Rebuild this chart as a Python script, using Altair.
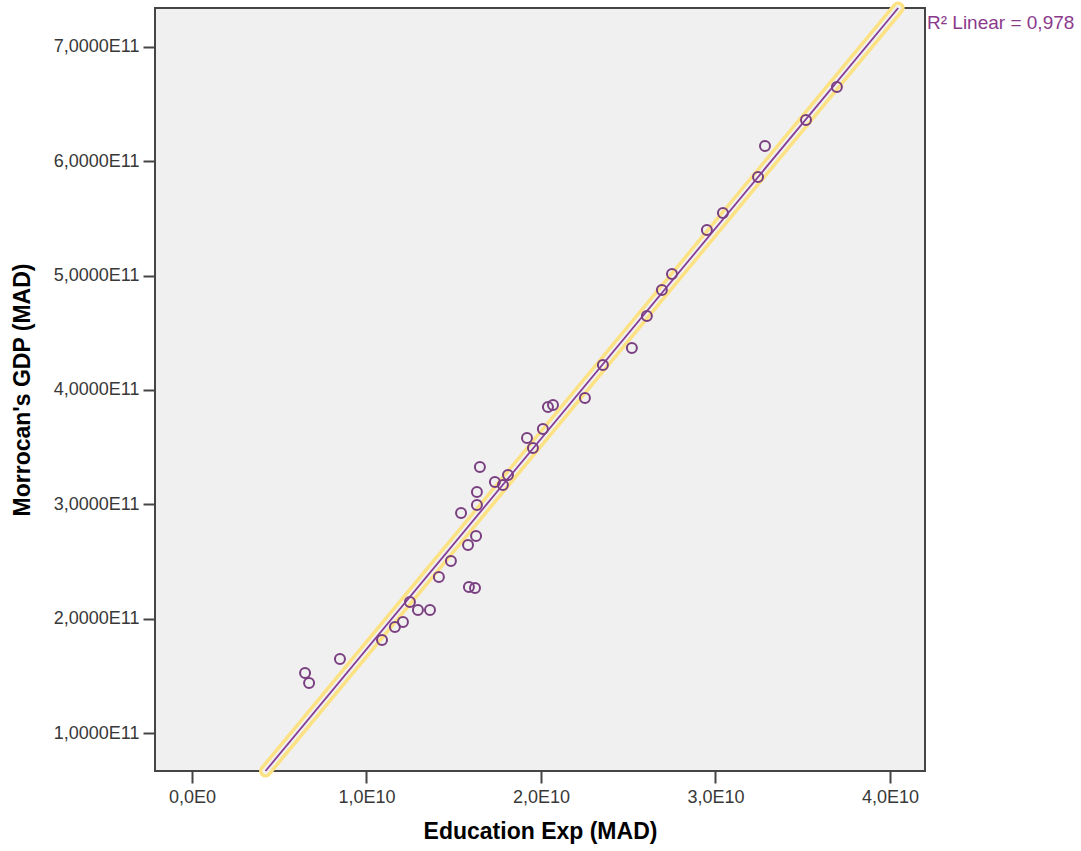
import altair as alt
import pandas as pd
import numpy as np

# Education expenditure (MAD) and Moroccan GDP (MAD)
edu_exp = [6.48e9, 6.71e9, 8.48e9, 1.089e10, 1.163e10, 1.209e10, 1.249e10, 1.295e10,
           1.364e10, 1.415e10, 1.484e10, 1.542e10, 1.582e10, 1.587e10, 1.622e10,
           1.628e10, 1.633e10, 1.633e10, 1.650e10, 1.736e10, 1.782e10, 1.811e10,
           1.920e10, 1.954e10, 2.011e10, 2.040e10, 2.069e10, 2.252e10, 2.355e10,
           2.521e10, 2.607e10, 2.693e10, 2.751e10, 2.951e10, 3.043e10, 3.244e10,
           3.284e10, 3.519e10, 3.696e10]
gdp = [1.527e11, 1.439e11, 1.649e11, 1.815e11, 1.929e11, 1.972e11, 2.147e11, 2.077e11,
       2.077e11, 2.366e11, 2.505e11, 2.925e11, 2.645e11, 2.278e11, 2.270e11,
       2.724e11, 2.995e11, 3.108e11, 3.327e11, 3.196e11, 3.170e11, 3.257e11,
       3.580e11, 3.493e11, 3.659e11, 3.851e11, 3.869e11, 3.930e11, 4.218e11,
       4.367e11, 4.647e11, 4.874e11, 5.013e11, 5.398e11, 5.547e11, 5.861e11,
       6.132e11, 6.359e11, 6.648e11]

x_ticks = [0, 1e10, 2e10, 3e10, 4e10]
y_ticks = [1e11, 2e11, 3e11, 4e11, 5e11, 6e11, 7e11]
x_domain = [-2.12e9, 4.201e10]
y_domain = [6.70e10, 7.338e11]
r2_label = "R\u00b2 Linear = 0,978"
x_title = "Education Exp (MAD)"
y_title = "Morrocan's GDP (MAD)"

W, H = 770, 763
PURPLE = "#7a3f80"
LINE_PURPLE = "#853d95"
YELLOW = "#fde283"
BG = "#f0f0f0"
FONT = "Liberation Sans"

df = pd.DataFrame({"edu": edu_exp, "gdp": gdp})

# Linear least-squares fit of the data; drawn across the y range of the plot
slope, intercept = np.polyfit(np.array(edu_exp), np.array(gdp), 1)
fit_x = [(yv - intercept) / slope for yv in y_domain]
fit_df = pd.DataFrame({"edu": fit_x, "gdp": y_domain})

xs = alt.Scale(domain=x_domain, nice=False, zero=False)
ys = alt.Scale(domain=y_domain, nice=False, zero=False)

x_axis = alt.Axis(
    values=x_ticks, title=x_title, grid=False, domain=False,
    labelExpr="datum.value == 0 ? '0,0E0' : replace(format(datum.value / 1e10, '.1f'), '.', ',') + 'E10'",
    tickSize=12, tickWidth=2, tickColor="#454545", labelPadding=5,
    labelFontSize=18, labelColor="#383838", labelFont=FONT,
    titleFontSize=23, titleFont=FONT, titleFontWeight="bold", titleColor="#000000",
    titlePadding=14,
)
y_axis = alt.Axis(
    values=y_ticks, title=y_title, grid=False, domain=False,
    labelExpr="replace(format(datum.value / 1e11, '.4f'), '.', ',') + 'E11'",
    tickSize=12, tickWidth=2, tickColor="#454545", labelPadding=4,
    labelFontSize=18, labelColor="#383838", labelFont=FONT,
    titleFontSize=23, titleFont=FONT, titleFontWeight="bold", titleColor="#000000",
    titlePadding=19,
)

base_fit = alt.Chart(fit_df).encode(
    x=alt.X("edu:Q", scale=xs, axis=x_axis),
    y=alt.Y("gdp:Q", scale=ys, axis=y_axis),
)
halo = base_fit.mark_line(color=YELLOW, strokeWidth=13, strokeCap="round", clip=False)
halo_inner = base_fit.mark_line(color=BG, strokeWidth=6, strokeCap="round", clip=False)
fit_line = base_fit.mark_line(color=LINE_PURPLE, strokeWidth=1.8, clip=False)

points = alt.Chart(df).mark_point(
    shape="circle", filled=False, color=PURPLE, size=100, strokeWidth=2, opacity=1
).encode(
    x=alt.X("edu:Q", scale=xs),
    y=alt.Y("gdp:Q", scale=ys),
)

label = alt.Chart(pd.DataFrame({"t": [r2_label]})).mark_text(
    align="left", baseline="middle", fontSize=19, font=FONT, color="#8b3a8b", dx=2
).encode(
    x=alt.value(W), y=alt.value(15), text="t:N"
)

chart = alt.layer(halo, halo_inner, fit_line, points, label).properties(
    width=W, height=H,
    padding={"left": 155, "top": 8, "right": 156, "bottom": 80},
    autosize=alt.AutoSizeParams(type="none"),
    background="#ffffff",
).configure_view(
    fill=BG, stroke="#454545", strokeWidth=2
)

chart.save("out.html", embed_options={"renderer": "svg", "actions": False})
